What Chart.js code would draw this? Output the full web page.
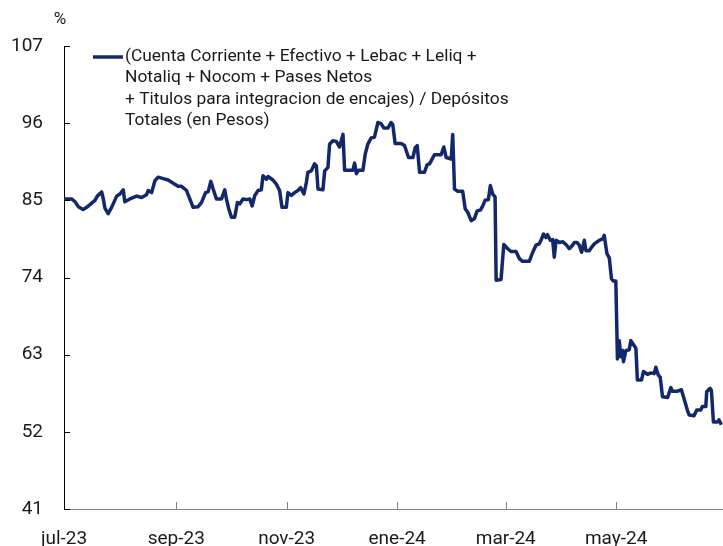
<!DOCTYPE html>
<html>
<head>
<meta charset="utf-8">
<script src="https://cdn.jsdelivr.net/npm/chart.js@4/dist/chart.umd.min.js"></script>
<style>
  html, body { margin: 0; padding: 0; background: #fff; }
  #wrap { width: 723px; height: 546px; }
</style>
</head>
<body>
<div id="wrap"><canvas id="c" width="723" height="546"></canvas></div>
<script>
// Days since 1 Jul 2023
const days = [
  0,4.2,6.1,7.9,10.6,12.5,15.3,17.1,18.4,20.8,
  21.7,22.6,24.4,26.3,29.1,30.9,32.7,33.6,36.4,40.1,
  42.9,45.6,46.5,48.4,50.2,52.0,54.8,57.5,61.2,63.0,
  64.9,67.7,69.5,71.3,74.1,76.0,78.2,79.6,81.1,82.4,
  84.2,87.0,88.8,89.7,91.0,92.5,94.3,95.8,97.1,98.9,
  100.8,102.6,103.9,105.4,107.2,109.0,109.9,111.8,112.7,115.4,
  117.3,119.1,120.4,122.8,123.7,125.6,127.4,129.2,130.7,132.5,
  133.9,134.7,136.6,138.4,139.4,140.3,143.0,144.0,145.8,146.7,
  148.5,150.4,152.2,154.1,155.0,159.6,160.5,161.5,162.7,165.1,
  166.4,167.8,169.7,171.5,173.4,175.2,176.7,178.9,180.7,181.6,
  182.9,186.2,188.1,189.0,190.3,192.7,194.0,195.1,196.4,199.1,
  200.6,201.9,204.6,208.3,209.8,211.1,213.9,214.7,215.7,217.5,
  220.2,221.6,223.0,224.9,226.7,228.2,230.0,231.3,232.6,234.4,
  235.5,236.8,238.1,238.7,241.4,242.9,245.1,246.9,249.7,251.5,
  253.3,257.0,258.9,260.7,262.5,263.8,264.9,266.2,267.1,268.6,
  269.9,270.8,271.8,273.6,275.4,277.3,279.1,280.9,281.9,283.3,
  284.6,285.9,287.4,288.3,290.1,291.4,292.9,295.6,297.5,298.4,
  299.9,301.2,302.4,303.5,304.8,305.7,306.7,307.6,308.5,309.0,
  310.4,312.2,313.1,314.9,315.9,316.7,319.0,320.1,322.3,324.2,
  326.0,326.9,328.2,329.3,330.6,333.4,335.2,336.1,338.9,341.0,
  342.5,344.3,345.3,348.0,349.5,351.7,352.6,354.5,355.0,356.9,
  357.6,358.7,360.9,361.8,363.1
];

// Ratio (%)
const ratio = [
  85.2,85.2,84.8,84.1,83.7,84.0,84.6,85.0,85.6,86.2,
  85.2,83.9,83.1,84.0,85.6,85.9,86.5,84.8,85.2,85.6,
  85.4,85.8,86.4,86.1,87.8,88.3,88.1,87.9,87.3,87.0,
  87.0,86.4,85.2,84.0,84.1,84.7,86.1,86.2,87.7,86.6,
  85.2,85.2,86.5,85.2,83.8,82.6,82.6,84.7,84.5,85.2,
  85.1,85.2,84.2,85.7,86.4,86.5,88.5,88.0,88.4,87.9,
  87.3,86.4,84.0,84.0,86.1,85.7,86.1,86.4,86.8,85.9,
  87.6,89.0,89.2,90.2,89.9,86.6,86.5,89.2,89.7,93.0,
  93.5,93.4,92.6,94.4,89.3,89.3,90.3,88.8,89.3,89.3,
  91.6,93.0,93.9,94.0,96.1,95.9,95.3,95.3,96.1,95.8,
  93.1,93.1,92.8,92.1,91.1,91.1,92.5,92.8,89.0,89.0,
  90.1,90.2,91.5,91.5,92.6,91.1,90.9,94.4,86.6,86.3,
  86.3,83.8,83.3,82.1,82.4,83.5,83.6,84.2,85.0,85.1,
  87.1,85.9,85.5,73.6,73.7,78.7,78.1,77.7,77.7,76.7,
  76.3,76.3,77.6,78.6,78.8,79.5,80.2,79.7,80.1,79.3,
  79.4,76.9,79.3,79.0,79.1,78.7,78.1,78.6,79.0,79.0,
  78.6,77.6,79.3,77.8,77.8,78.3,78.8,79.3,79.5,80.0,
  77.4,76.8,73.8,73.5,73.5,62.4,65.0,62.7,63.6,62.0,
  63.6,63.7,65.0,64.3,63.9,59.4,59.4,60.6,60.2,60.4,
  60.3,61.2,60.1,59.8,57.0,56.9,58.3,57.8,57.8,58.0,
  56.7,55.1,54.4,54.3,55.1,55.1,55.6,55.6,57.7,58.2,
  57.9,53.4,53.4,53.7,53.0
];

const tickDays = [0, 62, 123, 184, 244, 305];
const tickLabels = ['jul-23', 'sep-23', 'nov-23', 'ene-24', 'mar-24', 'may-24'];
const yTicks = [41, 52, 63, 74, 85, 96, 107];
const legendLines = [
  '(Cuenta Corriente + Efectivo + Lebac + Leliq +',
  'Notaliq + Nocom + Pases Netos',
  '+ Titulos para integracion de encajes) / Depósitos',
  'Totales (en Pesos)'
];
const unitLabel = '%';

const LINE = '#12286a';
const FONT = 'Roboto';

const points = days.map((d, i) => ({ x: d, y: ratio[i] }));

const decorations = {
  id: 'decorations',
  afterDraw(chart) {
    const { ctx, chartArea, scales } = chart;
    ctx.save();
    // inner tick marks
    ctx.lineWidth = 1;
    ctx.strokeStyle = '#000';
    ctx.beginPath();
    yTicks.forEach(v => {
      const y = Math.round(scales.y.getPixelForValue(v)) + 0.5;
      ctx.moveTo(chartArea.left, y);
      ctx.lineTo(chartArea.left + 6, y);
    });
    ctx.stroke();
    ctx.strokeStyle = '#808080';
    ctx.beginPath();
    tickDays.forEach(v => {
      if (v === 0) return;
      const x = Math.round(scales.x.getPixelForValue(v)) + 0.5;
      ctx.moveTo(x, chartArea.bottom);
      ctx.lineTo(x, chartArea.bottom - 7);
    });
    ctx.stroke();
    // unit label
    ctx.fillStyle = '#1a1a1a';
    ctx.font = '17px ' + FONT;
    ctx.textAlign = 'center';
    ctx.textBaseline = 'middle';
    ctx.fillText(unitLabel, chartArea.left - 4, 20);
    // legend
    const lx = chartArea.left + 29, ly = chartArea.top + 11;
    const ds = chart.data.datasets[0];
    ctx.strokeStyle = ds.borderColor;
    ctx.lineWidth = ds.borderWidth;
    ctx.beginPath();
    ctx.moveTo(lx, ly);
    ctx.lineTo(lx + 30, ly);
    ctx.stroke();
    ctx.font = '17.4px ' + FONT;
    ctx.textAlign = 'left';
    ctx.fillStyle = '#1a1a1a';
    legendLines.forEach((t, i) => ctx.fillText(t, lx + 32, ly + i * 21.1));
    ctx.restore();
  }
};

new Chart(document.getElementById('c'), {
  type: 'line',
  data: {
    datasets: [{
      label: legendLines.join(' '),
      data: points,
      borderColor: LINE,
      backgroundColor: LINE,
      borderWidth: 3.5,
      pointRadius: 0,
      tension: 0,
      borderJoinStyle: 'round',
      fill: false
    }]
  },
  options: {
    responsive: false,
    animation: false,
    layout: { padding: { top: 46, left: 0, right: 0, bottom: 0 } },
    plugins: {
      tooltip: { enabled: false },
      legend: { display: false }
    },
    scales: {
      x: {
        type: 'linear',
        min: 0,
        max: 364,
        grid: { drawOnChartArea: false, drawTicks: false },
        border: { display: true, color: '#808080', width: 1 },
        afterBuildTicks(scale) { scale.ticks = tickDays.map(v => ({ value: v })); },
        afterFit(scale) { scale.height = 37; },
        ticks: {
          autoSkip: false,
          maxRotation: 0,
          padding: 19,
          color: '#1a1a1a',
          font: { family: FONT, size: 19 },
          callback(v) { const i = tickDays.indexOf(v); return i >= 0 ? tickLabels[i] : ''; }
        }
      },
      y: {
        type: 'linear',
        min: 41,
        max: 107,
        grid: { drawOnChartArea: false, drawTicks: false },
        border: { display: true, color: '#000', width: 1 },
        afterBuildTicks(scale) { scale.ticks = yTicks.map(v => ({ value: v })); },
        afterFit(scale) { scale.width = 64; },
        ticks: {
          padding: 21,
          color: '#1a1a1a',
          font: { family: FONT, size: 19 }
        }
      }
    }
  },
  plugins: [decorations]
});
</script>
</body>
</html>
